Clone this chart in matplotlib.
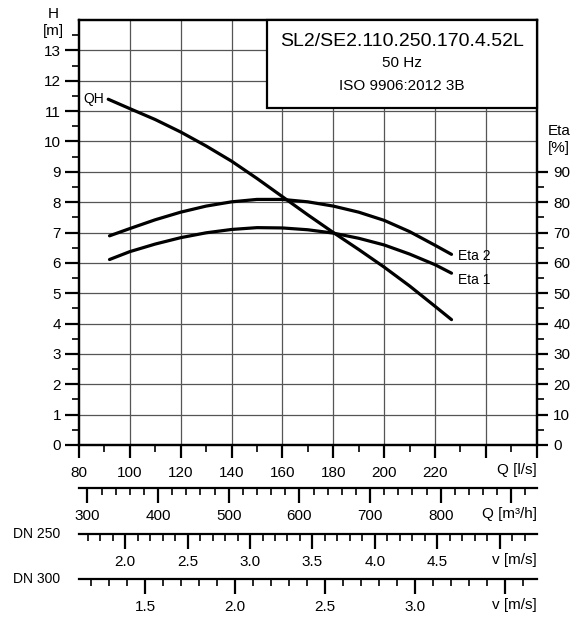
import numpy as np
import matplotlib.pyplot as plt
from matplotlib.ticker import MultipleLocator, FixedLocator
from matplotlib.patches import Rectangle

plt.rcParams['font.family'] = ['Liberation Sans', 'DejaVu Sans']

# curve data
q_qh = [91.5, 100, 110, 120, 130, 140, 150, 160, 170, 180, 190, 200, 210, 220, 226.5]
h_qh = [11.39, 11.08, 10.72, 10.31, 9.85, 9.35, 8.78, 8.18, 7.58, 7.00, 6.44, 5.86, 5.24, 4.57, 4.13]

q_eta = [92, 100, 110, 120, 130, 140, 150, 160, 170, 180, 190, 200, 210, 220, 226.5]
eta2 = [68.9, 71.3, 74.2, 76.7, 78.7, 80.1, 80.9, 80.9, 80.1, 78.7, 76.7, 74.0, 70.3, 65.8, 62.8]
eta1 = [61.1, 63.7, 66.2, 68.3, 69.9, 71.0, 71.6, 71.5, 70.9, 69.8, 68.1, 65.9, 62.9, 59.4, 56.6]

title = "SL2/SE2.110.250.170.4.52L"
subtitle1 = "50 Hz"
subtitle2 = "ISO 9906:2012 3B"

q_min, q_max = 80, 260
a250 = np.pi * 0.25**2 / 4
a300 = np.pi * 0.30**2 / 4

W, H = 581, 618
fig = plt.figure(figsize=(W / 100, H / 100), dpi=100)

x0, x1 = 79 / W, 536.7 / W
ax = fig.add_axes([x0, 1 - 445 / H, x1 - x0, (445 - 20) / H])
ax.set_xlim(q_min, q_max)
ax.set_ylim(0, 14)

for s in ax.spines.values():
    s.set_linewidth(1.6)

ax.set_xticks(range(80, 261, 20))
ax.set_xticklabels([str(v) if v <= 220 else "" for v in range(80, 261, 20)])
ax.xaxis.set_minor_locator(MultipleLocator(10))
ax.yaxis.set_major_locator(FixedLocator(range(0, 14)))
ax.yaxis.set_minor_locator(FixedLocator(np.arange(0.5, 14, 1)))
ax.tick_params(axis='x', which='major', direction='out', length=9, width=1.6, labelsize=11, pad=6)
ax.tick_params(axis='x', which='minor', direction='out', length=5, width=1.2)
ax.tick_params(axis='y', which='major', direction='out', length=10, width=1.6, labelsize=11, pad=3)
ax.tick_params(axis='y', which='minor', direction='out', length=5, width=1.2)

for v in range(100, 260, 20):
    ax.axvline(v, color='#555555', lw=0.9, zorder=1)
for v in range(1, 14):
    ax.axhline(v, color='#555555', lw=0.9, zorder=1)

ax.plot(q_qh, h_qh, color='black', lw=2.3, solid_capstyle='round', solid_joinstyle='round', zorder=3)
ax.text(q_qh[0] - 1.5, h_qh[0], "QH", ha='right', va='center', fontsize=10)

ax2 = ax.twinx()
ax2.set_ylim(0, 140)
ax2.yaxis.set_major_locator(FixedLocator(range(0, 91, 10)))
ax2.yaxis.set_minor_locator(FixedLocator(range(5, 90, 10)))
ax2.tick_params(axis='y', which='major', direction='out', length=8, width=1.6, labelsize=11, pad=4)
ax2.tick_params(axis='y', which='minor', direction='out', length=5, width=1.2)
for s in ax2.spines.values():
    s.set_linewidth(1.6)

ax2.plot(q_eta, eta2, color='black', lw=2.3, solid_capstyle='round', solid_joinstyle='round', zorder=3)
ax2.plot(q_eta, eta1, color='black', lw=2.3, solid_capstyle='round', solid_joinstyle='round', zorder=3)
ax2.text(q_eta[-1] + 2.5, eta2[-1] - 0.6, "Eta 2", ha='left', va='center', fontsize=10)
ax2.text(q_eta[-1] + 2.5, eta1[-1] - 2.2, "Eta 1", ha='left', va='center', fontsize=10)

# title box
bx = (267.3 - 79) / (536.7 - 79)
by = (445 - 108.3) / 425
ax2.add_patch(Rectangle((bx, by), 1 - bx, 1 - by, transform=ax.transAxes,
                        facecolor='white', edgecolor='black', lw=1.6, zorder=5, clip_on=False))
cx = 402 / W
fig.text(cx, 1 - 42 / H, title, ha='center', va='center', fontsize=14, zorder=6)
fig.text(cx, 1 - 63 / H, subtitle1, ha='center', va='center', fontsize=11, zorder=6)
fig.text(cx, 1 - 86 / H, subtitle2, ha='center', va='center', fontsize=11, zorder=6)

# axis titles
fig.text(53 / W, 1 - 14 / H, "H", ha='center', va='center', fontsize=11)
fig.text(53 / W, 1 - 31 / H, "[m]", ha='center', va='center', fontsize=11)
fig.text(559 / W, 1 - 131 / H, "Eta", ha='center', va='center', fontsize=11)
fig.text(559 / W, 1 - 148 / H, "[%]", ha='center', va='center', fontsize=11)
fig.text(x1, 1 - 470 / H, "Q [l/s]", ha='right', va='center', fontsize=11)


def scale_axis(y_px, lo, hi, major, minor, labels, unit, fmt):
    sa = fig.add_axes([x0, 1 - y_px / H, x1 - x0, 0.0001])
    sa.set_xlim(lo, hi)
    sa.patch.set_visible(False)
    for k in ['top', 'left', 'right']:
        sa.spines[k].set_visible(False)
    sa.spines['bottom'].set_linewidth(1.6)
    sa.set_yticks([])
    sa.set_xticks(major)
    sa.set_xticklabels([fmt.format(v) if v in labels else "" for v in major])
    sa.xaxis.set_minor_locator(FixedLocator(minor))
    sa.tick_params(axis='x', which='major', direction='out', length=11, width=1.6, labelsize=11, pad=4)
    sa.tick_params(axis='x', which='minor', direction='out', length=5, width=1.2)
    fig.text(x1, 1 - (y_px + 26) / H, unit, ha='right', va='center', fontsize=11)
    return sa


m3h_major = [300, 400, 500, 600, 700, 800, 900]
m3h_minor = list(range(300, 937, 20))
scale_axis(488.3, q_min * 3.6, q_max * 3.6, m3h_major, m3h_minor,
           [300, 400, 500, 600, 700, 800], "Q [m³/h]", "{:.0f}")

v250_major = [2.0, 2.5, 3.0, 3.5, 4.0, 4.5, 5.0]
v250_minor = list(np.round(np.arange(1.7, 5.3, 0.1), 1))
scale_axis(534, q_min / 1000 / a250, q_max / 1000 / a250, v250_major, v250_minor,
           [2.0, 2.5, 3.0, 3.5, 4.0, 4.5], "v [m/s]", "{:.1f}")

v300_major = [1.5, 2.0, 2.5, 3.0, 3.5]
v300_minor = list(np.round(np.arange(1.2, 3.7, 0.1), 1))
scale_axis(579.3, q_min / 1000 / a300, q_max / 1000 / a300, v300_major, v300_minor,
           [1.5, 2.0, 2.5, 3.0], "v [m/s]", "{:.1f}")

fig.text(13 / W, 1 - 534 / H, "DN 250", ha='left', va='center', fontsize=10)
fig.text(13 / W, 1 - 579 / H, "DN 300", ha='left', va='center', fontsize=10)

fig.savefig("out.png", dpi=100)
